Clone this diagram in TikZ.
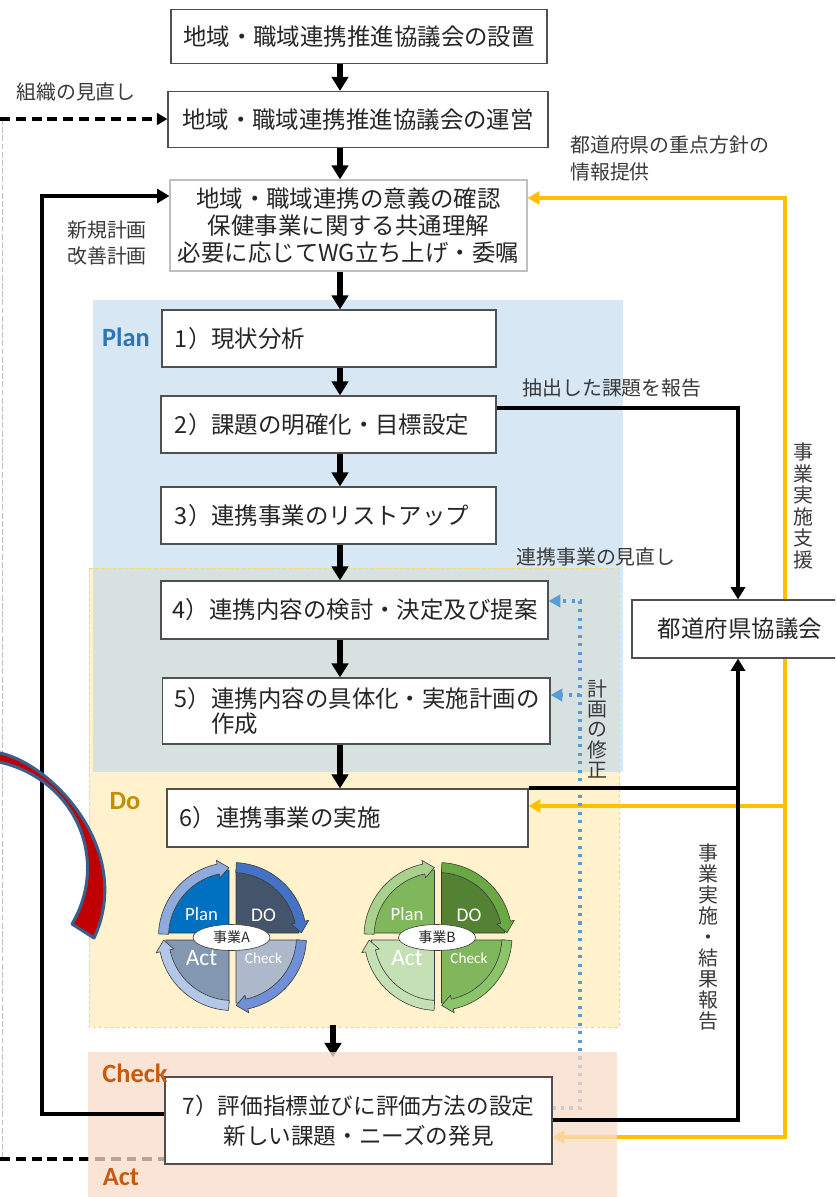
\documentclass[tikz,border=0pt]{standalone}
\usepackage{fontspec}
\setmainfont{Noto Sans CJK JP}
\newfontfamily\latfont{Carlito}
\usetikzlibrary{arrows.meta,shapes.geometric}

\definecolor{txt}{HTML}{262626}
\definecolor{notetxt}{HTML}{3A3A3A}
\definecolor{boxline}{HTML}{505050}
\definecolor{softline}{HTML}{BFBFBF}
\definecolor{planfill}{HTML}{BDD7EE}
\definecolor{dofill}{HTML}{FFF2CC}
\definecolor{doedge}{HTML}{FFD966}
\definecolor{checkfill}{HTML}{F9DCC8}
\definecolor{planblue}{HTML}{2E75B6}
\definecolor{dogold}{HTML}{BF9000}
\definecolor{checkorange}{HTML}{C55A11}
\definecolor{gold}{HTML}{FFC000}
\definecolor{dotblue}{HTML}{5B9BD5}
\definecolor{bandblue}{HTML}{3A5F8C}
\definecolor{bandred}{HTML}{C00000}
\definecolor{wheeledge}{HTML}{3A3A3A}

\pgfdeclarelayer{regions}
\pgfdeclarelayer{lines}
\pgfdeclarelayer{veil}
\pgfdeclarelayer{overlines}
\pgfsetlayers{regions,lines,veil,overlines,main}

% curved arrow segment of a PDCA wheel: start angle, tip angle, fill
\newcommand\ringarrow[3]{%
  \filldraw[fill=#3, draw=wheeledge, line width=0.5pt, line join=round]
    (#1:74) arc[start angle=#1, end angle=#2+9, radius=74]
    -- (#2+9:78) -- (#2:69) -- (#2+9:60) -- (#2+9:64)
    arc[start angle=#2+9, end angle=#1, radius=64] -- cycle;}

% PDCA wheel: centre, name/letter
\newcommand\pdcawheel[2]{%
  \begin{scope}[shift={#1}, y=0.03cm]
    \filldraw[wheelpart, fill=wqP] (-3.5,3.5) -- ++(0,63) arc[start angle=90,end angle=180,radius=63] -- cycle;
    \filldraw[wheelpart, fill=wqD] (3.5,3.5) -- ++(63,0) arc[start angle=0,end angle=90,radius=63] -- cycle;
    \filldraw[wheelpart, fill=wqC] (3.5,-3.5) -- ++(0,-63) arc[start angle=-90,end angle=0,radius=63] -- cycle;
    \filldraw[wheelpart, fill=wqA] (-3.5,-3.5) -- ++(-63,0) arc[start angle=180,end angle=270,radius=63] -- cycle;
    \ringarrow{178}{93}{waP}
    \ringarrow{87}{3}{waD}
    \ringarrow{-3}{-87}{waC}
    \ringarrow{-93}{-177}{waA}
    \node[wheeltxt, font=\latfont\fontsize{16}{16}\selectfont] (#2plan) at (-31,22) {Plan};
    \node[wheeltxt, font=\latfont\fontsize{16.5}{16.5}\selectfont] (#2do) at (31,21) {DO};
    \node[wheeltxt, font=\latfont\fontsize{20}{20}\selectfont] (#2act) at (-31,-22) {Act};
    \node[wheeltxt, font=\latfont\fontsize{13}{13}\selectfont] (#2check) at (31,-22) {Check};
    \node[hubnode] (#2hub) at (-1,-1) {事業#2};
  \end{scope}}

\begin{document}
\begin{tikzpicture}[x=0.03cm, y=-0.03cm,
  flowbox/.style={draw=boxline, fill=white, line width=1pt, inner sep=0pt, text=txt,
    font=\fontsize{20}{23}\selectfont},
  sidenote/.style={text=notetxt, inner sep=0pt, font=\fontsize{17}{23}\selectfont},
  vertnote/.style={text=notetxt, inner sep=0pt, align=center, font=\fontsize{17}{18}\selectfont},
  phaselabel/.style={inner sep=0pt, font=\latfont\bfseries\fontsize{22.5}{24}\selectfont},
  bigarrow/.style={line width=4.3pt, -{Triangle[length=12pt,width=14pt]}},
  loopline/.style={line width=3.4pt, line join=miter},
  looptip/.style={-{Triangle[length=10.5pt,width=12pt]}},
  yline/.style={draw=gold, line width=3pt, line join=miter},
  ytip/.style={-{Triangle[length=10pt,width=11pt]}},
  dotline/.style={draw=dotblue, line width=2.6pt, dash pattern=on 2.6pt off 4.6pt,
    -{Triangle[length=10pt,width=10.5pt]}},
  dashblack/.style={line width=3.2pt, dash pattern=on 8.5pt off 5pt},
  graydash/.style={draw=softline, line width=0.8pt, dash pattern=on 5pt off 2pt},
  wheelpart/.style={draw=wheeledge, line width=0.5pt},
  wheeltxt/.style={text=white, inner sep=0pt},
  hubnode/.style={ellipse, draw=wheeledge, line width=0.5pt, fill=white, inner sep=0pt,
    minimum width=2.31cm, minimum height=0.78cm, text=txt, font=\fontsize{12}{12}\selectfont}]

\useasboundingbox (0,0) rectangle (835,1197);
\clip (0,0) rectangle (835,1197);

% page and phase areas
\begin{pgfonlayer}{regions}
  \fill[white] (0,0) rectangle (835,1197);
  \fill[dofill] (89,568) rectangle (619,1027);
  \fill[planfill, fill opacity=0.6] (93,300) rectangle (623,772);
  \draw[doedge, line width=0.8pt, dash pattern=on 3pt off 2pt] (89,568) rectangle (619,1027);
\end{pgfonlayer}
\begin{pgfonlayer}{veil}
  \fill[checkfill, fill opacity=0.75] (88,1052) rectangle (617,1197);
\end{pgfonlayer}

% process boxes
\node[flowbox, minimum width=11.28cm, minimum height=1.62cm] (t1) at (359,36.5) {地域・職域連携推進協議会の設置};
\node[flowbox, minimum width=11.4cm, minimum height=1.68cm] (t2) at (358,119.5) {地域・職域連携推進協議会の運営};
\node[flowbox, draw=softline, align=center, minimum width=10.71cm, minimum height=2.73cm] (t3) at (348.5,225.5)
  {地域・職域連携の意義の確認\\保健事業に関する共通理解\\必要に応じてWG立ち上げ・委嘱};
\node[flowbox, align=left, text width=9.24cm, inner xsep=0.39cm, minimum height=1.71cm] (b1) at (329,338.5) {1）現状分析};
\node[flowbox, align=left, text width=9.21cm, inner xsep=0.42cm, minimum height=1.71cm] (b2) at (328.5,424.5) {2）課題の明確化・目標設定};
\node[flowbox, align=left, text width=9.21cm, inner xsep=0.42cm, minimum height=1.71cm] (b3) at (328.5,515.5) {3）連携事業のリストアップ};
\node[flowbox, align=left, text width=10.89cm, inner xsep=0.36cm, minimum height=1.74cm] (b4) at (354.5,610) {4）連携内容の検討・決定及び提案};
\node[flowbox, align=left, text width=10.875cm, inner xsep=0.375cm, minimum height=1.98cm,
  font=\fontsize{20}{22}\selectfont] (b5) at (356.25,711) {5）連携内容の具体化・実施計画の\\\phantom{5）}作成};
\node[flowbox, align=left, text width=10.05cm, inner xsep=0.39cm, minimum height=1.74cm] (b6) at (347.5,818) {6）連携事業の実施};
\node[flowbox, align=center, minimum width=11.61cm, minimum height=2.61cm,
  font=\fontsize{19.3}{25.6}\selectfont] (b7) at (358.5,1120.5) {7）評価指標並びに評価方法の設定\\新しい課題・ニーズの発見};
\node[flowbox, minimum width=6.48cm, minimum height=1.74cm] (pref) at (740,629) {都道府県協議会};

% route points
\coordinate (ax) at (340,0);
\coordinate (L1) at (42,1114);  \coordinate (L2) at (42,196);
\coordinate (R1) at (738,408);  \coordinate (R2) at (738,1120);
\coordinate (Y1) at (785,198);  \coordinate (Y2) at (785,1137); \coordinate (Y3) at (785,806);
\coordinate (D1) at (580,601);  \coordinate (D2) at (580,1108); \coordinate (D3) at (580,695);
\coordinate (K1) at (0,119);    \coordinate (K2) at (0,1159);
\coordinate (G1) at (2,119);    \coordinate (G2) at (2,1159);
\coordinate (A1) at (333,1025); \coordinate (A2) at (333,1057);

\begin{pgfonlayer}{lines}
  % main flow
  \draw[bigarrow] (t1.south -| ax) -- (t2.north -| ax);
  \draw[bigarrow] (t2.south -| ax) -- (t3.north -| ax);
  \draw[bigarrow] (t3.south -| ax) -- (b1.north -| ax);
  \draw[bigarrow] (b1.south -| ax) -- (b2.north -| ax);
  \draw[bigarrow] (b2.south -| ax) -- (b3.north -| ax);
  \draw[bigarrow] (b3.south -| ax) -- (b4.north -| ax);
  \draw[bigarrow] (b4.south -| ax) -- (b5.north -| ax);
  \draw[bigarrow] (b5.south -| ax) -- (b6.north -| ax);
  \draw[bigarrow] (A1) -- (A2);
  % prefecture support
  \draw[yline, {Triangle[length=10pt,width=11pt]}-{Triangle[length=10pt,width=11pt]}]
    (b7.east |- Y2) -- (Y2) -- (Y1) -- (t3.east |- Y1);
  \draw[yline, ytip] (Y3) -- (b6.east |- Y3);
  % plan revision
  \draw[dotline] (b7.east |- D2) -- (D2) -- (D1) -- (b4.east |- D1);
  \draw[dotline] (D3) -- (b5.east |- D3);
  % organisation review
  \draw[graydash] (G1) -- (G2);
  \draw[dashblack, -{Triangle[length=9pt,width=10pt]}] (K1) -- (t2.west |- K1);
  \draw[dashblack] (K2) -- (b7.west |- K2);
\end{pgfonlayer}

% feedback loops
\begin{pgfonlayer}{overlines}
  \draw[loopline, looptip] (b7.west |- L1) -- (L1) -- (L2) -- (t3.west |- L2);
  \draw[loopline, looptip] (b2.east |- R1) -- (R1) -- (pref.north -| R1);
  \draw[loopline, looptip] (b7.east |- R2) -- (R2) -- (pref.south -| R2);
  \draw[loopline] (b6.north east) -- (b6.north east -| R2);
\end{pgfonlayer}

% side notes
\node[sidenote] (n1) at (76,92) {組織の見直し};
\node[sidenote, align=left, anchor=west] (n2) at (570,158) {都道府県の重点方針の\\情報提供};
\node[sidenote, align=left] (n3) at (107,243) {新規計画\\改善計画};
\node[sidenote] (n4) at (612,388) {抽出した課題を報告};
\node[sidenote] (n5) at (596,557) {連携事業の見直し};
\node[vertnote, font=\fontsize{17}{18.4}\selectfont] (n6) at (803,506) {事\\業\\実\\施\\支\\援};
\node[vertnote, font=\fontsize{17}{17.4}\selectfont] (n7) at (597,729) {計\\画\\の\\修\\正};
\node[vertnote] (n8) at (708,937) {事\\業\\実\\施\\・\\結\\果\\報\\告};

% phase titles
\node[phaselabel, text=planblue] (pplan) at (126,337) {Plan};
\node[phaselabel, text=dogold] (pdo) at (125,801) {Do};
\node[phaselabel, text=checkorange] (pcheck) at (135,1073) {Check};
\node[phaselabel, text=checkorange] (pact) at (121,1177) {Act};

% wheel of project A
\definecolor{wqP}{HTML}{0070C0}\definecolor{wqD}{HTML}{44546A}
\definecolor{wqA}{HTML}{8497B0}\definecolor{wqC}{HTML}{ADB9CA}
\definecolor{waP}{HTML}{8FAADC}\definecolor{waD}{HTML}{4472C4}
\definecolor{waC}{HTML}{6F8FD6}\definecolor{waA}{HTML}{B4C7E7}
\pdcawheel{(232.5,936.5)}{A}

% wheel of project B
\definecolor{wqP}{HTML}{80B75C}\definecolor{wqD}{HTML}{548235}
\definecolor{wqA}{HTML}{C5E0B4}\definecolor{wqC}{HTML}{80B75C}
\definecolor{waP}{HTML}{A9D18E}\definecolor{waD}{HTML}{6AA843}
\definecolor{waC}{HTML}{8CC46A}\definecolor{waA}{HTML}{C5E0B4}
\pdcawheel{(438,936.5)}{B}

% curved band at the left edge
\filldraw[draw=bandblue, fill=bandred, line width=2.6pt, line join=round]
  (-5,752) .. controls (50,760) and (135,850) .. (94,938)
  -- (72,924) .. controls (110,860) and (76,777) .. (-5,761) -- cycle;

\end{tikzpicture}
\end{document}
